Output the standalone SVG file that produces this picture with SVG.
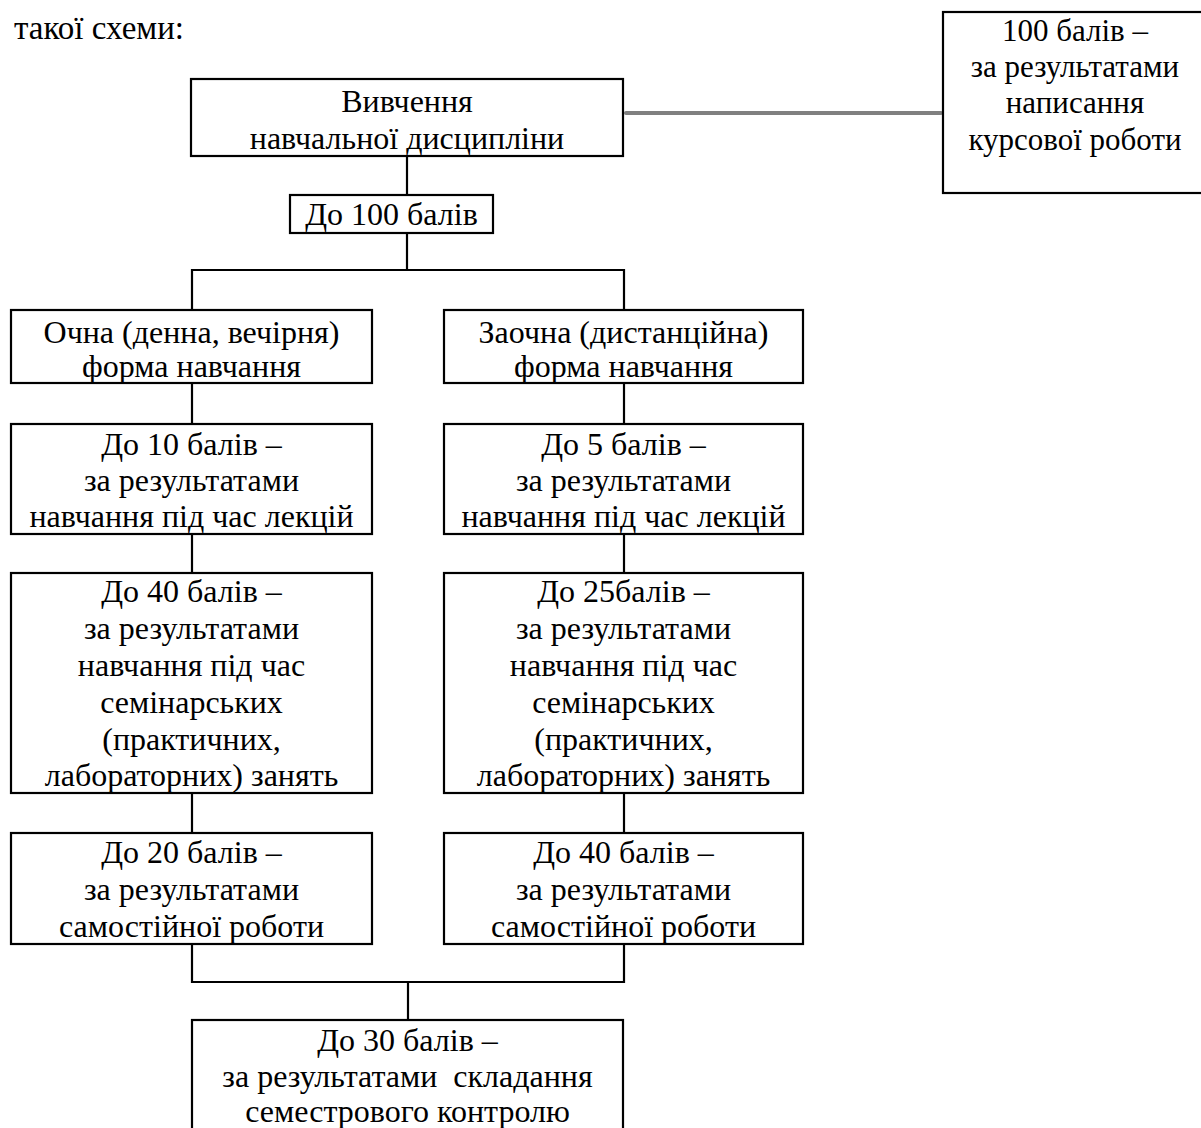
<svg xmlns="http://www.w3.org/2000/svg" width="1201" height="1128" viewBox="0 0 1201 1128">
<style>
  .box { fill: #ffffff; stroke: #000000; stroke-width: 2.2; }
  .ln { fill: none; stroke: #000000; stroke-width: 2.2; }
  .gray { fill: none; stroke: #808080; stroke-width: 4; stroke-linecap: round; }
  text { font-family: "Liberation Serif", "Times New Roman", serif; font-size: 32px; fill: #000000; }
  .c { text-anchor: middle; }
  .r { font-size: 31px; }
</style>
<rect x="0" y="0" width="1201" height="1128" fill="#ffffff"/>
<text x="14" y="39" style="font-size:33px">такої схеми:</text>

<g id="connectors">
  <line class="gray" x1="626" y1="113" x2="941" y2="113"/>
  <polyline class="ln" points="407,156 407,195"/>
  <polyline class="ln" points="407,233 407,270"/>
  <polyline class="ln" points="192,310 192,270 624,270 624,310"/>
  <line class="ln" x1="192" y1="383" x2="192" y2="424"/>
  <line class="ln" x1="624" y1="383" x2="624" y2="424"/>
  <line class="ln" x1="192" y1="534" x2="192" y2="573"/>
  <line class="ln" x1="624" y1="534" x2="624" y2="573"/>
  <line class="ln" x1="192" y1="793" x2="192" y2="833"/>
  <line class="ln" x1="624" y1="793" x2="624" y2="833"/>
  <polyline class="ln" points="192,944 192,982 624,982 624,944"/>
  <line class="ln" x1="408" y1="982" x2="408" y2="1020"/>
</g>

<g id="n_course">
  <rect class="box" x="943" y="12" width="262" height="181"/>
  <text class="c r" x="1075" y="41">100 балів –</text>
  <text class="c r" x="1075" y="77">за результатами</text>
  <text class="c r" x="1075" y="113">написання</text>
  <text class="c r" x="1075" y="150">курсової роботи</text>
</g>

<g id="n_study">
  <rect class="box" x="191" y="79" width="432" height="77"/>
  <text class="c" x="407" y="112">Вивчення</text>
  <text class="c" x="407" y="149">навчальної дисципліни</text>
</g>

<g id="n_100">
  <rect class="box" x="290" y="195" width="203" height="38"/>
  <text class="c" x="391.5" y="225">До 100 балів</text>
</g>

<g id="n_full">
  <rect class="box" x="11" y="310" width="361" height="73"/>
  <text class="c" x="191.5" y="343">Очна (денна, вечірня)</text>
  <text class="c" x="191.5" y="377">форма навчання</text>
</g>

<g id="n_dist">
  <rect class="box" x="444" y="310" width="359" height="73"/>
  <text class="c" x="623.5" y="343">Заочна (дистанційна)</text>
  <text class="c" x="623.5" y="377">форма навчання</text>
</g>

<g id="n_full_lect">
  <rect class="box" x="11" y="424" width="361" height="110"/>
  <text class="c" x="191.5" y="455">До 10 балів –</text>
  <text class="c" x="191.5" y="491">за результатами</text>
  <text class="c" x="191.5" y="527">навчання під час лекцій</text>
</g>

<g id="n_dist_lect">
  <rect class="box" x="444" y="424" width="359" height="110"/>
  <text class="c" x="623.5" y="455">До 5 балів –</text>
  <text class="c" x="623.5" y="491">за результатами</text>
  <text class="c" x="623.5" y="527">навчання під час лекцій</text>
</g>

<g id="n_full_sem">
  <rect class="box" x="11" y="573" width="361" height="220"/>
  <text class="c" x="191.5" y="602">До 40 балів –</text>
  <text class="c" x="191.5" y="639">за результатами</text>
  <text class="c" x="191.5" y="676">навчання під час</text>
  <text class="c" x="191.5" y="713">семінарських</text>
  <text class="c" x="191.5" y="750">(практичних,</text>
  <text class="c" x="191.5" y="786">лабораторних) занять</text>
</g>

<g id="n_dist_sem">
  <rect class="box" x="444" y="573" width="359" height="220"/>
  <text class="c" x="623.5" y="602">До 25балів –</text>
  <text class="c" x="623.5" y="639">за результатами</text>
  <text class="c" x="623.5" y="676">навчання під час</text>
  <text class="c" x="623.5" y="713">семінарських</text>
  <text class="c" x="623.5" y="750">(практичних,</text>
  <text class="c" x="623.5" y="786">лабораторних) занять</text>
</g>

<g id="n_full_self">
  <rect class="box" x="11" y="833" width="361" height="111"/>
  <text class="c" x="191.5" y="863">До 20 балів –</text>
  <text class="c" x="191.5" y="900">за результатами</text>
  <text class="c" x="191.5" y="937">самостійної роботи</text>
</g>

<g id="n_dist_self">
  <rect class="box" x="444" y="833" width="359" height="111"/>
  <text class="c" x="623.5" y="863">До 40 балів –</text>
  <text class="c" x="623.5" y="900">за результатами</text>
  <text class="c" x="623.5" y="937">самостійної роботи</text>
</g>

<g id="n_control">
  <rect class="box" x="192" y="1020" width="431" height="120"/>
  <text class="c" x="407.5" y="1051">До 30 балів –</text>
  <text class="c" x="407.5" y="1087" xml:space="preserve">за результатами  складання</text>
  <text class="c" x="407.5" y="1122">семестрового контролю</text>
</g>
</svg>
